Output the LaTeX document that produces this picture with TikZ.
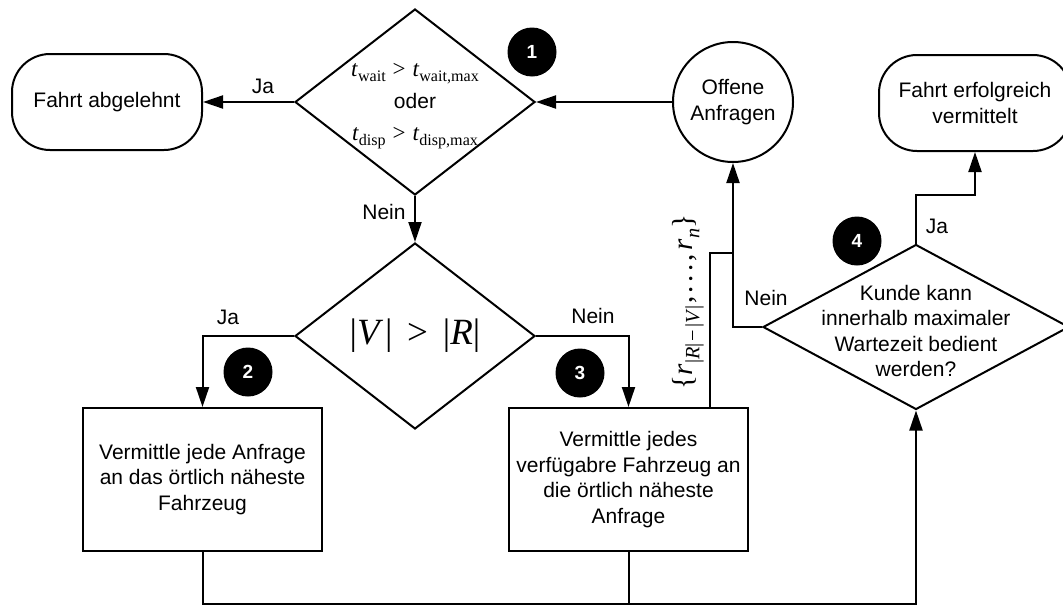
\documentclass[tikz,border=0pt]{standalone}
\usepackage{fontspec}
\setmainfont{Liberation Sans}
\newfontfamily\tms{Liberation Serif}
\usetikzlibrary{shapes.geometric,arrows.meta,calc}

% lowered, reduced subscript for the serif formulas
\newcommand\tsub[1]{\raisebox{-0.24em}{\scalebox{0.7}{#1}}}

\tikzset{
  every node/.style={font=\fontsize{21}{25.5}\selectfont},
  flow/.style={line width=2pt},
  arrow/.style={flow, -{Triangle[length=20pt,width=13pt]}},
  terminal/.style={draw, line width=2pt, rounded corners=38pt,
    minimum width=190pt, minimum height=96pt, align=center, inner sep=2pt},
  process/.style={draw, line width=2pt, minimum width=239pt,
    minimum height=143pt, align=center, inner sep=2pt},
  decision/.style={draw, line width=2pt, diamond, inner sep=0pt},
  store/.style={draw, circle, line width=2pt, minimum size=120pt,
    inner sep=0pt, align=center},
  badge/.style={circle, fill=black, minimum size=49pt, inner sep=0pt,
    text=white, font=\fontsize{19}{19}\selectfont\bfseries},
  lbl/.style={inner sep=0pt},
}

\begin{document}
\begin{tikzpicture}[x=1pt,y=-1pt]
\useasboundingbox (0,0) rectangle (1063,608);

% terminals and stores
\node[terminal] (rej) at (107,102) {Fahrt abgelehnt};
\node[terminal, minimum width=192pt] (ok) at (975,103) {Fahrt erfolgreich\\vermittelt};
\node[store] (open) at (733,102) {Offene\\Anfragen};

% decisions
\node[decision, minimum width=240pt, minimum height=186pt,
  label={[align=center, yshift=-4pt]center:{%
    {\fontsize{23}{27.5}\selectfont\tms\textit{t}\tsub{wait}\hspace{0.3em}>\hspace{0.3em}\textit{t}\tsub{wait,max}}\\[7pt]
    oder\\[6pt]
    {\fontsize{23}{27.5}\selectfont\tms\textit{t}\tsub{disp}\hspace{0.3em}>\hspace{0.3em}\textit{t}\tsub{disp,max}}}}]
  (d1) at (415,102) {};
\node[decision, minimum width=240pt, minimum height=186pt,
  label={center:{\fontsize{37}{37}\selectfont\tms
    |\textit{V}\kern0.05em|\hspace{0.4em}>\hspace{0.4em}|\textit{R}|}}]
  (d2) at (415,336) {};
\node[decision, minimum width=306pt, minimum height=165pt,
  label={[align=center, yshift=-4pt]center:{Kunde kann\\innerhalb maximaler\\Wartezeit bedient\\werden?}}]
  (d4) at (916,327) {};

% processes
\node[process] (box2) at (202.5,479.5) {Vermittle jede Anfrage\\an das örtlich näheste\\Fahrzeug};
\node[process] (box3) at (628.5,479.5) {Vermittle jedes\\verfügabre Fahrzeug an\\die örtlich näheste\\Anfrage};

% step markers
\node[badge] (b1) at (532,52) {1};
\node[badge] (b2) at (248,372) {2};
\node[badge] (b3) at (580,373) {3};
\node[badge] (b4) at (857,241) {4};

% branch labels
\node[lbl] (ja1) at (263,86) {Ja};
\node[lbl] (nein1) at (384,212) {Nein};
\node[lbl] (ja2) at (228,317) {Ja};
\node[lbl] (nein2) at (593,316) {Nein};
\node[lbl] (nein4) at (766,298) {Nein};
\node[lbl] (ja4) at (937,226) {Ja};

% set of remaining requests
\node[lbl, rotate=90] (rset) at (688,302) {\fontsize{29}{29}\selectfont\tms
  \{\textit{r}\tsub{|\textit{R}|\hspace{0.1em}−\hspace{0.1em}|\textit{V}|}\hspace{0.05em},\hspace{0.12em}.\hspace{0.12em}.\hspace{0.12em}.\hspace{0.12em},\hspace{0.12em}\textit{r}\tsub{\textit{n}}\}};

% junction points
\coordinate (s3) at ([xshift=81.5pt]box3.north);
\coordinate (k1) at (733,253);
\coordinate (k2) at (916,195);
\coordinate (bot) at (0,604);

% connectors
\draw[arrow] (open.west) -- (d1.east);
\draw[arrow] (d1.west) -- (rej.east);
\draw[arrow] (d1.south) -- (d2.north);
\draw[arrow] (d2.west) -| (box2.north);
\draw[arrow] (d2.east) -| (box3.north);
\draw[arrow] (s3) |- (k1) -- (open.south);
\draw[flow] (d4.west) -| (k1);
\draw[arrow] (d4.north) -- (k2) -| (ok.south);
\draw[arrow] (box2.south) -- (box2.south |- bot) -| (d4.south);
\draw[flow] (box3.south) -- (box3.south |- bot);
\end{tikzpicture}
\end{document}
